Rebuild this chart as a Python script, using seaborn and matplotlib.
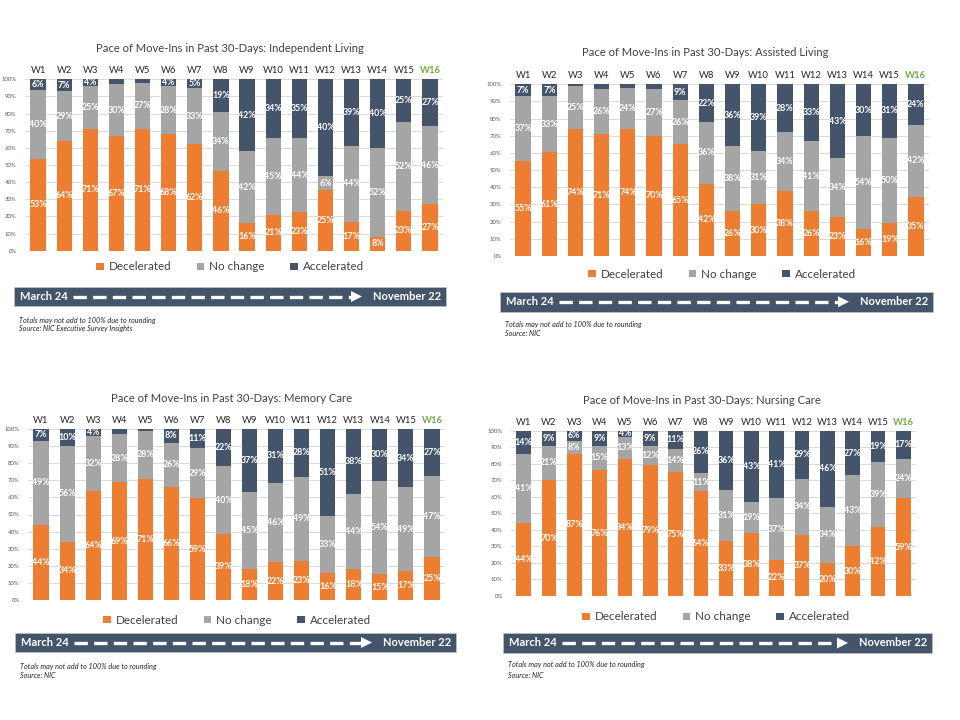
import matplotlib
matplotlib.use("Agg")
import matplotlib.pyplot as plt
import seaborn as sns
import pandas as pd
from matplotlib.patches import Rectangle, Polygon, Patch
from matplotlib.lines import Line2D

# ---------------- data ----------------
weeks = [f"W{i}" for i in range(1, 17)]
series_names = ["Decelerated", "No change", "Accelerated"]

il_decel = [53, 64, 71, 67, 71, 68, 62, 46, 16, 21, 23, 25, 17, 8, 23, 27]
il_nochg = [40, 29, 25, 30, 27, 28, 33, 34, 42, 45, 44, 6, 44, 52, 52, 46]
il_accel = [6, 7, 4, 3, 2, 4, 5, 19, 42, 34, 35, 40, 39, 40, 25, 27]

al_decel = [55, 61, 74, 71, 74, 70, 65, 42, 26, 30, 38, 26, 23, 16, 19, 35]
al_nochg = [37, 33, 25, 26, 24, 27, 26, 36, 38, 31, 34, 41, 34, 54, 50, 42]
al_accel = [7, 7, 1, 3, 2, 3, 9, 22, 36, 39, 28, 33, 43, 30, 31, 24]

mc_decel = [44, 34, 64, 69, 71, 66, 59, 39, 18, 22, 23, 16, 18, 15, 17, 25]
mc_nochg = [49, 56, 32, 28, 28, 26, 29, 40, 45, 46, 49, 33, 44, 54, 49, 47]
mc_accel = [7, 10, 4, 3, 1, 8, 11, 22, 37, 31, 28, 51, 38, 30, 34, 27]

nc_decel = [44, 70, 87, 76, 84, 79, 75, 64, 33, 38, 22, 37, 20, 30, 42, 59]
nc_nochg = [41, 21, 8, 15, 13, 12, 14, 11, 31, 19, 37, 34, 34, 43, 39, 24]
nc_accel = [14, 9, 6, 9, 4, 9, 11, 26, 36, 43, 41, 29, 46, 27, 19, 17]

titles = [
    "Pace of Move-Ins in Past 30-Days: Independent Living",
    "Pace of Move-Ins in Past 30-Days: Assisted Living",
    "Pace of Move-Ins in Past 30-Days: Memory Care",
    "Pace of Move-Ins in Past 30-Days: Nursing Care",
]
banner_left = "March 24"
banner_right = "November 22"
foot1 = "Totals may not add to 100% due to rounding"
sources = ["Source: NIC Executive Survey Insights", "Source: NIC", "Source: NIC", "Source: NIC"]
yticks = [0, 10, 20, 30, 40, 50, 60, 70, 80, 90, 100]

# ---------------- style ----------------
ORANGE = "#ED7D31"
GREY = "#A5A5A5"
DARK = "#44546A"
BANNER = "#44546A"
GREEN = "#70AD47"
colors = [ORANGE, GREY, DARK]

sns.set_theme(style="white")
plt.rcParams["font.family"] = ["Lato", "DejaVu Sans"]

W, H = 960, 720
fig = plt.figure(figsize=(W / 100, H / 100), dpi=100)


def fx(x):
    return x / W


def fy(y):
    return 1 - y / H


# layout per panel (pixel coordinates, top-down)
panels = [
    dict(data=(il_decel, il_nochg, il_accel), ax=(25, 79.3, 443, 250.7), tx=230, ty=48,
         ly=267, lx=230, banner=(14, 287, 446, 306), fy1=321, fy2=329),
    dict(data=(al_decel, al_nochg, al_accel), ax=(510, 84.3, 929, 256), tx=705, ty=53,
         ly=274, lx=722, banner=(500, 292, 933, 311.5), fy1=325, fy2=333),
    dict(data=(mc_decel, mc_nochg, mc_accel), ax=(28, 429, 445, 600), tx=232, ty=398,
         ly=620, lx=237, banner=(15, 633, 456, 652), fy1=666, fy2=676),
    dict(data=(nc_decel, nc_nochg, nc_accel), ax=(511, 430.7, 916, 596), tx=702, ty=401,
         ly=617, lx=716, banner=(503, 633, 932, 653), fy1=665, fy2=675),
]

for i, p in enumerate(panels):
    x0, y0, x1, y1 = p["ax"]
    ax = fig.add_axes([fx(x0), fy(y1), (x1 - x0) / W, (y1 - y0) / H])
    dec, noc, acc = p["data"]
    df = pd.DataFrame({"week": weeks, "dec": dec, "noc": noc, "acc": acc})
    tot = df["dec"] + df["noc"] + df["acc"]
    df["c1"] = df["dec"] / tot * 100
    df["c2"] = (df["dec"] + df["noc"]) / tot * 100
    df["c3"] = 100.0
    # draw layers from the top one down (overlay) -> 100% stacked columns
    for col, c in zip(["c3", "c2", "c1"], [DARK, GREY, ORANGE]):
        sns.barplot(data=df, x="week", y=col, color=c, saturation=1, width=0.58,
                    errorbar=None, linewidth=0, ax=ax, order=weeks, zorder=3)
    # labels
    for j in range(len(weeks)):
        lows = [0, df["c1"][j], df["c2"][j]]
        highs = [df["c1"][j], df["c2"][j], 100]
        vals = [dec[j], noc[j], acc[j]]
        for lo, hi, v in zip(lows, highs, vals):
            if v >= 4:
                ax.text(j, (lo + hi) / 2, f"{v}%", ha="center", va="center",
                        color="white", fontsize=6.4, fontweight="bold", zorder=5)
    ax.set_ylim(0, 100)
    ax.set_xlim(-0.5, 15.5)
    ax.set_yticks(yticks)
    ax.set_yticklabels([f"{t}%" for t in yticks], fontsize=4.3, color="#595959")
    ax.yaxis.grid(True, color="#D9D9D9", linewidth=0.7, zorder=0)
    ax.set_axisbelow(True)
    for s in ax.spines.values():
        s.set_visible(False)
    ax.set_xlabel("")
    ax.set_ylabel("")
    ax.xaxis.tick_top()
    ax.tick_params(axis="x", length=0, pad=3, labelsize=6.8, colors="#262626")
    ax.tick_params(axis="y", length=0, pad=6)
    for lbl in ax.get_xticklabels():
        if lbl.get_text() == weeks[-1]:
            lbl.set_color(GREEN)
            lbl.set_fontweight("bold")

    # title
    fig.text(fx(p["tx"]), fy(p["ty"]), titles[i], ha="center", va="center",
             fontsize=8.1, color="#404040")

    # legend
    handles = [Patch(facecolor=c, edgecolor="none", label=n) for c, n in zip(colors, series_names)]
    fig.legend(handles=handles, loc="center", bbox_to_anchor=(fx(p["lx"]), fy(p["ly"])),
               ncol=3, frameon=False, fontsize=8.4, handlelength=0.65, handleheight=0.65,
               handletextpad=0.4, columnspacing=2.2, labelcolor="#404040")

    # banner
    bx0, by0, bx1, by1 = p["banner"]
    fig.add_artist(Rectangle((fx(bx0), fy(by1)), (bx1 - bx0) / W, (by1 - by0) / H,
                             transform=fig.transFigure, facecolor=BANNER, edgecolor="#BFBFBF",
                             linewidth=0.6))
    ymid = (by0 + by1) / 2
    ym = fy(ymid)
    fig.text(fx(bx0 + 6), ym, banner_left, ha="left", va="center", color="white",
             fontsize=8.0, fontweight="bold")
    fig.text(fx(bx1 - 5), ym, banner_right, ha="right", va="center", color="white",
             fontsize=8.0, fontweight="bold")
    lx0 = bx0 + 59
    lx1 = bx1 - 95
    fig.add_artist(Line2D([fx(lx0), fx(lx1)], [ym, ym], transform=fig.transFigure,
                          color="white", linewidth=2.4, linestyle=(0, (4.0, 1.9)),
                          solid_capstyle="butt", dash_capstyle="butt"))
    fig.add_artist(Polygon([(fx(lx1), fy(ymid - 5.5)),
                            (fx(lx1), fy(ymid + 5.5)),
                            (fx(lx1 + 11), ym)], closed=True,
                           transform=fig.transFigure, facecolor="white", edgecolor="none"))

    # footnotes
    fig.text(fx(bx0 + 5), fy(p["fy1"]), foot1, ha="left", va="center", fontsize=5.2,
             style="italic", color="#262626")
    fig.text(fx(bx0 + 5), fy(p["fy2"]), sources[i], ha="left", va="center", fontsize=5.2,
             style="italic", color="#262626")

fig.savefig("out.png", dpi=100, facecolor="white")
